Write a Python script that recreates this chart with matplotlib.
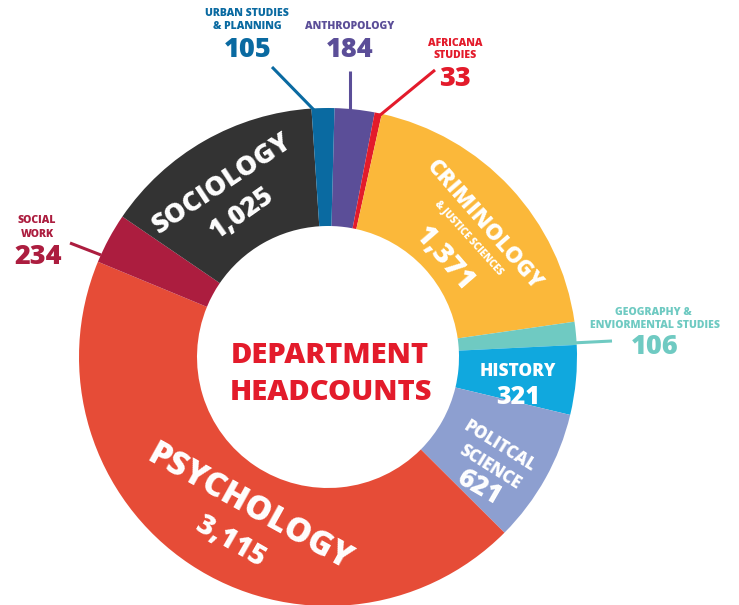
import matplotlib
matplotlib.use("Agg")
import matplotlib.pyplot as plt

# ---- data (clockwise from top) ----
departments = ["ANTHROPOLOGY", "AFRICANA STUDIES", "CRIMINOLOGY & JUSTICE SCIENCES",
               "GEOGRAPHY & ENVIORMENTAL STUDIES", "HISTORY", "POLITCAL SCIENCE",
               "PSYCHOLOGY", "SOCIAL WORK", "SOCIOLOGY", "URBAN STUDIES & PLANNING"]
headcounts = [184, 33, 1371, 106, 321, 621, 3115, 234, 1025, 105]
colors = ["#5b4e98", "#e31b2b", "#fbb83a", "#6fcac2", "#10a8de", "#8d9fd0",
          "#e64c37", "#ac1d3f", "#333333", "#0a6aa1"]
title_lines = ["DEPARTMENT", "HEADCOUNTS"]

W, H = 739, 605
fig = plt.figure(figsize=(W / 100, H / 100), dpi=100)
ax = fig.add_axes([0, 0, 1, 1])
fig.patch.set_facecolor("white")

def Y(y):
    return H - y

cx, cy, R = 328, Y(357), 249
ax.pie(headcounts, colors=colors, startangle=88.5, counterclock=False,
       center=(cx, cy), radius=R, frame=True,
       wedgeprops=dict(width=R - 131, linewidth=0))
ax.set_xlim(0, W)
ax.set_ylim(0, H)
ax.set_aspect("equal")
ax.axis("off")

FONT = "Open Sans"
def fmt(v):
    return f"{v:,}"

def txt(x, y, s, size, color, rot=0, weight="heavy"):
    ax.text(x, Y(y), s, fontsize=size, color=color, rotation=rot,
            rotation_mode="anchor", ha="center", va="center_baseline",
            family=FONT, fontweight=weight)

# centre title
txt(330, 352, title_lines[0], 21, "#e31b2b")
txt(331, 389, title_lines[1], 21, "#e31b2b")

white = "white"
d = dict(zip(departments, headcounts))
c = dict(zip(departments, colors))

# in-ring labels
txt(220, 181, "SOCIOLOGY", 19.5, white, rot=33.5)
txt(240, 211, fmt(d["SOCIOLOGY"]), 19.5, white, rot=35)

txt(487, 223, "CRIMINOLOGY", 16, white, rot=-49)
txt(469, 237, "& JUSTICE SCIENCES", 7, white, rot=-48)
txt(447, 257, fmt(d["CRIMINOLOGY & JUSTICE SCIENCES"]), 20.5, white, rot=-49)

txt(518, 370, "HISTORY", 12.5, white)
txt(518, 394, fmt(d["HISTORY"]), 18, white)

txt(501, 445, "POLITCAL", 12, white, rot=-32)
txt(491, 466, "SCIENCE", 12, white, rot=-32)
txt(480, 485, fmt(d["POLITCAL SCIENCE"]), 19, white, rot=-30)

txt(251, 504, "PSYCHOLOGY", 24, white, rot=-29)
txt(232, 539, fmt(d["PSYCHOLOGY"]), 20.5, white, rot=-30)

# outside labels
small, big = 7.6, 19.5
txt(247, 12, "URBAN STUDIES", small, c["URBAN STUDIES & PLANNING"])
txt(247, 25, "& PLANNING", small, c["URBAN STUDIES & PLANNING"])
txt(248, 47, fmt(d["URBAN STUDIES & PLANNING"]), big, c["URBAN STUDIES & PLANNING"])

txt(350, 25, "ANTHROPOLOGY", small, c["ANTHROPOLOGY"])
txt(350, 47, fmt(d["ANTHROPOLOGY"]), big, c["ANTHROPOLOGY"])

txt(455, 42, "AFRICANA", small, c["AFRICANA STUDIES"])
txt(455, 54, "STUDIES", small, c["AFRICANA STUDIES"])
txt(455, 76, fmt(d["AFRICANA STUDIES"]), big, c["AFRICANA STUDIES"])

txt(37, 219, "SOCIAL", small, c["SOCIAL WORK"])
txt(37, 233, "WORK", small, c["SOCIAL WORK"])
txt(38, 254, fmt(d["SOCIAL WORK"]), big, c["SOCIAL WORK"])

txt(653, 311, "GEOGRAPHY &", small, c["GEOGRAPHY & ENVIORMENTAL STUDIES"])
txt(655, 324, "ENVIORMENTAL STUDIES", small, c["GEOGRAPHY & ENVIORMENTAL STUDIES"])
txt(655, 344, fmt(d["GEOGRAPHY & ENVIORMENTAL STUDIES"]), big, c["GEOGRAPHY & ENVIORMENTAL STUDIES"])

# leader lines
def line(x0, y0, x1, y1, color):
    ax.plot([x0, x1], [Y(y0), Y(y1)], color=color, lw=2.2, solid_capstyle="butt")

line(272, 67, 314, 110, c["URBAN STUDIES & PLANNING"])
line(350, 71, 350, 110, c["ANTHROPOLOGY"])
line(435, 70, 379, 116, c["AFRICANA STUDIES"])
line(70, 243, 101, 255, c["SOCIAL WORK"])
line(572, 343, 612, 341, c["GEOGRAPHY & ENVIORMENTAL STUDIES"])

fig.savefig("out.png", dpi=100, facecolor="white")
